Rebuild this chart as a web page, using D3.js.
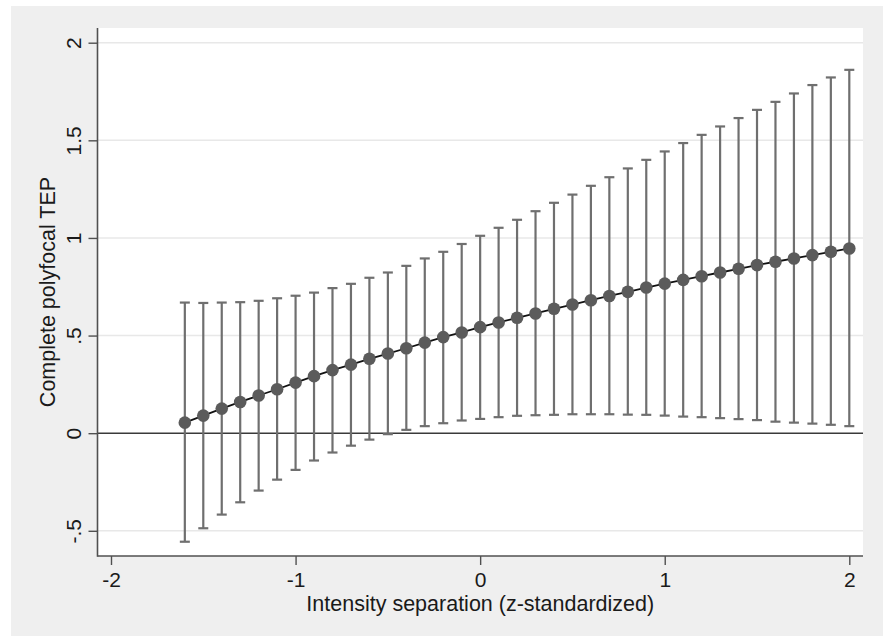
<!DOCTYPE html>
<html>
<head>
<meta charset="utf-8">
<script src="https://cdn.jsdelivr.net/npm/d3@7"></script>
<style>
  html, body { margin: 0; padding: 0; background: #ffffff; }
  svg { display: block; }
  text { font-family: "Liberation Sans", Arial, Helvetica, sans-serif; fill: #1a1a1a; }
</style>
</head>
<body>
<svg id="chart" width="883" height="636"></svg>
<script>
// ---- data ----
const xValues = [-1.6,-1.5,-1.4,-1.3,-1.2,-1.1,-1.0,-0.9,-0.8,-0.7,-0.6,-0.5,-0.4,-0.3,-0.2,-0.1,
                 0.0,0.1,0.2,0.3,0.4,0.5,0.6,0.7,0.8,0.9,1.0,1.1,1.2,1.3,1.4,1.5,1.6,1.7,1.8,1.9,2.0];
const estimate = [0.054,0.090,0.126,0.160,0.193,0.225,0.259,0.292,0.323,0.351,0.381,0.408,0.435,0.464,0.492,0.516,
                  0.543,0.567,0.591,0.613,0.637,0.659,0.681,0.703,0.724,0.746,0.766,0.785,0.804,0.823,0.842,0.861,0.878,0.895,0.912,0.929,0.946];
const upperCI = [0.669,0.667,0.669,0.671,0.678,0.691,0.704,0.720,0.743,0.765,0.796,0.823,0.857,0.895,0.929,0.969,
                 1.011,1.052,1.093,1.137,1.180,1.222,1.267,1.311,1.356,1.400,1.443,1.486,1.528,1.571,1.614,1.656,1.697,1.740,1.783,1.822,1.861];
const lowerCI = [-0.556,-0.487,-0.417,-0.354,-0.294,-0.238,-0.188,-0.140,-0.099,-0.064,-0.033,-0.005,0.017,0.036,0.051,0.065,
                 0.073,0.082,0.089,0.092,0.094,0.097,0.097,0.097,0.095,0.094,0.090,0.085,0.082,0.077,0.072,0.067,0.059,0.054,0.049,0.043,0.036];
const xTicks = [-2,-1,0,1,2];
const xTickLabels = ["-2","-1","0","1","2"];
const yTicks = [-0.5,0,0.5,1,1.5,2];
const yTickLabels = ["-.5","0",".5","1","1.5","2"];
const xTitle = "Intensity separation (z-standardized)";
const yTitle = "Complete polyfocal TEP";

const data = xValues.map((x,i) => ({x, est: estimate[i], lo: lowerCI[i], hi: upperCI[i]}));

// ---- layout ----
const svg = d3.select("#chart");
const plot = {left: 97.5, right: 863, top: 28, bottom: 556};

const x = d3.scaleLinear().domain([-2, 2]).range([111, 849.3]);
const y = d3.scaleLinear().domain([-0.5, 2]).range([530.8, 42.7]);

// outer graph region
svg.append("rect").attr("x", 11).attr("y", 6).attr("width", 872).attr("height", 630).attr("fill", "#efefef");
// plot region
svg.append("rect").attr("x", plot.left).attr("y", plot.top)
   .attr("width", plot.right - plot.left).attr("height", plot.bottom - plot.top).attr("fill", "#ffffff");

// grid lines
svg.append("g").selectAll("line").data(yTicks.filter(d => d !== 0)).join("line")
  .attr("x1", plot.left).attr("x2", plot.right)
  .attr("y1", d => y(d)).attr("y2", d => y(d))
  .attr("stroke", "#e8e8e8").attr("stroke-width", 1.5);

// zero reference line
svg.append("line").attr("x1", plot.left).attr("x2", plot.right)
  .attr("y1", y(0)).attr("y2", y(0)).attr("stroke", "#3a3a3a").attr("stroke-width", 1.6);

// axes
const yAxis = d3.axisLeft(y).tickValues(yTicks).tickFormat((d,i) => yTickLabels[i]).tickSize(9).tickPadding(6);
const gy = svg.append("g").attr("transform", `translate(${plot.left},0)`).call(yAxis);
gy.select(".domain").remove();
gy.append("line").attr("x1", 0).attr("x2", 0).attr("y1", plot.top).attr("y2", plot.bottom + 0.8)
  .attr("stroke", "#505050").attr("stroke-width", 1.6);
gy.selectAll(".tick line").attr("stroke", "#505050").attr("stroke-width", 1.4);
gy.selectAll(".tick text")
  .attr("font-size", 21).attr("fill", "#1a1a1a")
  .attr("text-anchor", "middle")
  .attr("x", null).attr("dy", null)
  .attr("transform", "translate(-17,0) rotate(-90)")
  .attr("y", 0);

const xAxis = d3.axisBottom(x).tickValues(xTicks).tickFormat((d,i) => xTickLabels[i]).tickSize(9).tickPadding(6);
const gx = svg.append("g").attr("transform", `translate(0,${plot.bottom})`).call(xAxis);
gx.select(".domain").remove();
gx.append("line").attr("x1", plot.left).attr("x2", plot.right).attr("y1", 0).attr("y2", 0)
  .attr("stroke", "#505050").attr("stroke-width", 1.6);
gx.selectAll(".tick line").attr("stroke", "#505050").attr("stroke-width", 1.4);
gx.selectAll(".tick text").attr("font-size", 21).attr("fill", "#1a1a1a").attr("dy", null).attr("y", 31);

// axis titles
svg.append("text").attr("x", (plot.left + plot.right) / 2 + 0).attr("y", 611)
  .attr("text-anchor", "middle").attr("font-size", 21.5).text(xTitle);
svg.append("text").attr("transform", `translate(55,${(plot.top + plot.bottom) / 2}) rotate(-90)`)
  .attr("text-anchor", "middle").attr("font-size", 21.5).text(yTitle);

// error bars
const capW = 5;
const bars = svg.append("g").attr("stroke", "#6f6f6f").attr("stroke-width", 2.2);
bars.selectAll("line.v").data(data).join("line").attr("class", "v")
  .attr("x1", d => x(d.x)).attr("x2", d => x(d.x))
  .attr("y1", d => y(d.lo)).attr("y2", d => y(d.hi));
bars.selectAll("line.capHi").data(data).join("line").attr("class", "capHi")
  .attr("x1", d => x(d.x) - capW).attr("x2", d => x(d.x) + capW)
  .attr("y1", d => y(d.hi)).attr("y2", d => y(d.hi));
bars.selectAll("line.capLo").data(data).join("line").attr("class", "capLo")
  .attr("x1", d => x(d.x) - capW).attr("x2", d => x(d.x) + capW)
  .attr("y1", d => y(d.lo)).attr("y2", d => y(d.lo));

// connecting line
svg.append("path").datum(data)
  .attr("d", d3.line().x(d => x(d.x)).y(d => y(d.est)))
  .attr("fill", "none").attr("stroke", "#111111").attr("stroke-width", 1.8);

// markers
svg.append("g").selectAll("circle").data(data).join("circle")
  .attr("cx", d => x(d.x)).attr("cy", d => y(d.est)).attr("r", 6.3)
  .attr("fill", "#5b5b5b");
</script>
</body>
</html>
